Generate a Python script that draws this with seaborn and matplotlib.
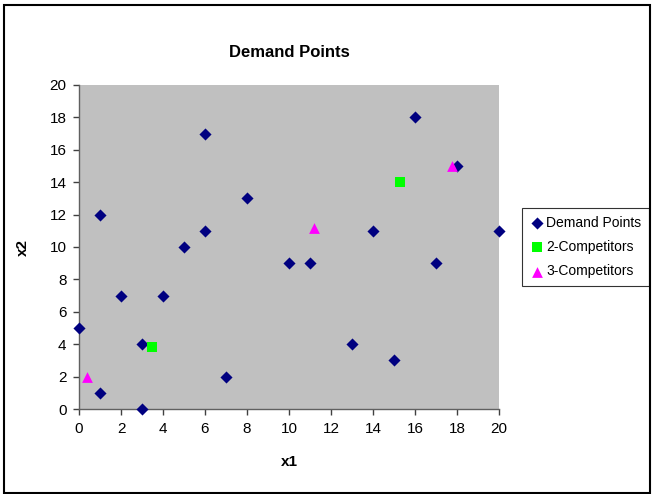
import matplotlib
matplotlib.use("Agg")
import matplotlib.pyplot as plt
from matplotlib.patches import Rectangle
import seaborn as sns
import pandas as pd

# Demand points
demand_x1 = [0, 1, 1, 2, 3, 3, 4, 5, 6, 6, 7, 8, 10, 11, 13, 14, 15, 16, 17, 18, 20]
demand_x2 = [5, 12, 1, 7, 4, 0, 7, 10, 17, 11, 2, 13, 9, 9, 4, 11, 3, 18, 9, 15, 11]

# Competitor locations
comp2_x1 = [3.5, 15.3]
comp2_x2 = [3.8, 14.0]
comp3_x1 = [0.4, 11.2, 17.75]
comp3_x2 = [2.0, 11.2, 15.0]

ticks = list(range(0, 21, 2))

sns.set_theme(style="white")
plt.rcParams["font.family"] = ["Liberation Sans", "DejaVu Sans"]
plt.rcParams["text.color"] = "black"
plt.rcParams["axes.labelcolor"] = "black"
plt.rcParams["xtick.color"] = "black"
plt.rcParams["ytick.color"] = "black"

fig = plt.figure(figsize=(6.53, 4.94), dpi=100)
ax = fig.add_axes([0.121, 0.172, 0.643, 0.656])
ax.set_facecolor("#C0C0C0")

df_d = pd.DataFrame({"x1": demand_x1, "x2": demand_x2})
df_2 = pd.DataFrame({"x1": comp2_x1, "x2": comp2_x2})
df_3 = pd.DataFrame({"x1": comp3_x1, "x2": comp3_x2})

common = dict(ax=ax, x="x1", y="x2", linewidth=0, zorder=3, clip_on=False)
sns.scatterplot(data=df_d, marker="D", s=38, color="#000080",
                label="Demand Points", **common)
sns.scatterplot(data=df_2, marker="s", s=48, color="#00FF00",
                label="2-Competitors", **common)
sns.scatterplot(data=df_3, marker="^", s=60, color="#FF00FF",
                label="3-Competitors", **common)

ax.set_xlim(0, 20)
ax.set_ylim(0, 20)
ax.set_xticks(ticks)
ax.set_yticks(ticks)
ax.tick_params(axis="both", which="both", direction="out", length=4, width=1,
               color="#404040", labelsize=11, pad=5, bottom=True, left=True)
for side in ["top", "right"]:
    ax.spines[side].set_visible(False)
for side in ["left", "bottom"]:
    ax.spines[side].set_color("#606060")
    ax.spines[side].set_linewidth(1)
ax.grid(False)

ax.set_xlabel("x1", fontsize=11, fontweight="bold", labelpad=14)
ax.set_ylabel("x2", fontsize=11, fontweight="bold", labelpad=14)
ax.set_title("Demand Points", fontsize=12, fontweight="bold", pad=20)

leg = ax.legend(loc="center left", bbox_to_anchor=(1.055, 0.5), frameon=True,
                fancybox=False, edgecolor="black", fontsize=10,
                handletextpad=0.2, borderpad=0.55, labelspacing=0.75,
                handlelength=1.0, borderaxespad=0)
leg.get_frame().set_linewidth(0.8)

# Chart border
fig.patches.append(Rectangle((0.006, 0.002), 0.990, 0.988, transform=fig.transFigure,
                             fill=False, edgecolor="black", linewidth=1.5))

fig.savefig("out.png", dpi=100, facecolor="white")
